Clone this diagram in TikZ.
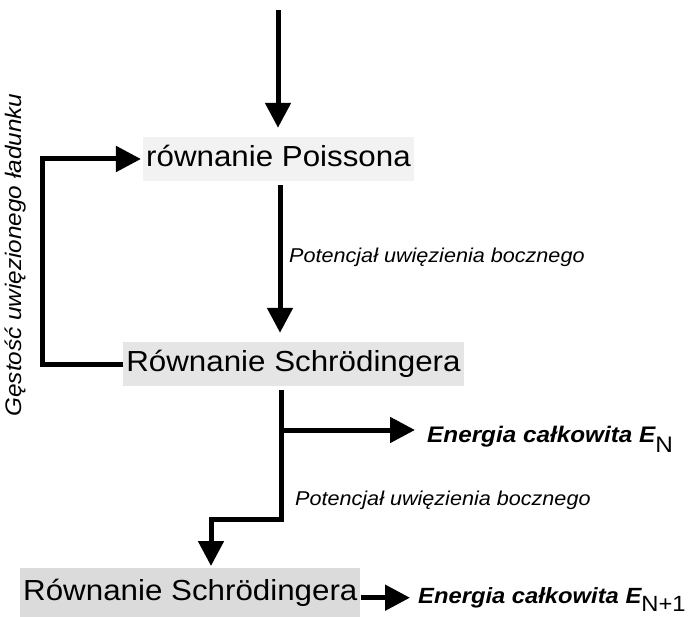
\documentclass[tikz,border=0pt]{standalone}
\usepackage{fontspec}
\setmainfont{Liberation Sans}[FakeStretch=1.08]
\usetikzlibrary{arrows.meta}
\begin{document}
\begin{tikzpicture}[x=1pt,y=-1pt,
  box/.style={inner xsep=3pt, inner ysep=0pt, minimum height=44pt,
    text height=21pt, text depth=6pt, font=\fontsize{29}{32}\selectfont},
  lab/.style={inner sep=0pt, font=\fontsize{20}{24}\selectfont\itshape},
  sidelab/.style={inner sep=0pt, font=\fontsize{22.5}{26}\selectfont\itshape},
  enlab/.style={inner sep=0pt, font=\fontsize{22.5}{26}\selectfont\bfseries\itshape},
  conn/.style={line width=5pt},
  arr/.style={conn, -{Triangle[length=25pt,width=25pt]}}
]
\useasboundingbox (0,0) rectangle (698,617);
% boxes
\node[box, fill=gray!10] (poisson) at (278.5,159) {równanie Poissona};
\node[box, fill=gray!20] (schr1) at (293.5,364) {Równanie Schrödingera};
\node[box, fill=gray!28, anchor=north west, minimum height=49pt] (schr2) at (20,568) {Równanie Schrödingera};
% helper coordinates
\coordinate (start) at (278,10);
\coordinate (c1) at (280,0);
\coordinate (c2) at (281,0);
\coordinate (branch) at (281,430);
\coordinate (corner) at (211,519);
\coordinate (loop) at (42,0);
% labels
\node[lab, anchor=base west] (pot1) at (289,263) {Potencjał uwięzienia bocznego};
\node[lab, anchor=base west] (pot2) at (295,505) {Potencjał uwięzienia bocznego};
\node[sidelab, rotate=90] (gest) at (16,255) {Gęstość uwięzionego ładunku};
\node[enlab, anchor=base west] (en1) at (427,442) {Energia całkowita \textit{E}\raisebox{-10pt}{\mdseries\upshape N}};
\node[enlab, anchor=base west, font=\fontsize{22}{26}\selectfont\bfseries\itshape] (en2) at (418,603) {Energia całkowita \textit{E}\raisebox{-8pt}{\mdseries\upshape N+1}};
% connectors
\draw[arr, shorten >=9pt] (start) -- (poisson.north -| start);
\draw[arr, shorten <=4pt, shorten >=9pt] (poisson.south -| c1) -- (schr1.north -| c1);
\draw[arr, shorten >=2pt] (schr1.west) -- (schr1.west -| loop) |- (poisson.west);
\draw[arr, shorten <=4pt, shorten >=2pt] (schr1.south -| c2) |- (corner) -- (schr2.north -| corner);
\draw[arr, shorten >=12pt] (branch) -- (branch -| en1.west);
\draw[arr, shorten >=8pt] ([yshift=-5pt]schr2.east) -- ([yshift=-5pt]schr2.east -| en2.west);
\end{tikzpicture}
\end{document}
